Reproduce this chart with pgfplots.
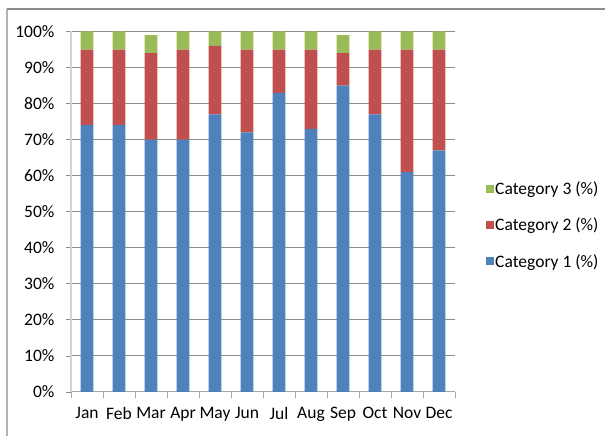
\documentclass[border=0pt]{standalone}
\usepackage{fontspec}
\setmainfont{Carlito}
\usepackage{pgfplots}
\pgfplotsset{compat=1.18}
\definecolor{cblue}{HTML}{4F81BD}
\definecolor{cred}{HTML}{C0504D}
\definecolor{cgreen}{HTML}{9BBB59}
\definecolor{gridgray}{HTML}{8C8C8C}
\begin{document}
\begin{tikzpicture}[x=1pt,y=1pt]
\useasboundingbox (0,0) rectangle (605,436);
\draw[gray!60, line width=1.2pt] (7,0) -- (7,427);
\draw[gridgray, line width=1.2pt] (7,427) -- (605,427);
\begin{axis}[
  at={(71pt,44pt)}, anchor=south west,
  scale only axis, width=384pt, height=360.5pt,
  ybar stacked, bar width=12.7pt,
  xmin=-0.5, xmax=11.5, ymin=0, ymax=100,
  xtick={0,...,11},
  xticklabels={Jan,Feb,Mar,Apr,May,Jun,Jul,Aug,Sep,Oct,Nov,Dec},
  minor xtick={-0.5,0.5,...,11.5},
  ytick={0,10,...,100},
  yticklabel={\pgfmathprintnumber{\tick}\%},
  /pgf/number format/assume math mode=true,
  ticklabel style={font=\fontsize{17.5}{20}\selectfont},
  axis x line*=bottom, axis y line*=left,
  x axis line style={draw=gray!70, line width=1pt, -},
  y axis line style={draw=gray!35, line width=2pt, -},
  tick align=outside,
  major x tick style={draw=none},
  minor x tick style={draw=gray!70, line width=0.8pt},
  minor tick length=6pt,
  major tick length=5pt,
  y tick style={draw=gridgray, line width=0.8pt},
  ymajorgrids, grid style={draw=gridgray, line width=1pt},
  xticklabel style={yshift=-7pt},
  yticklabel style={xshift=-8pt},
  legend style={at={(1.073,0.463)}, anchor=west, draw=none, fill=none,
    font=\fontsize{17.5}{20}\selectfont, row sep=20pt,
    nodes={inner sep=1pt, anchor=west}},
  legend cell align=left,
  reverse legend,
  legend image code/.code={\fill[#1, draw=none] (0pt,-4pt) rectangle (8pt,4pt);},
]
\addplot[fill=cblue, draw=none] coordinates {(0,74) (1,74) (2,70) (3,70) (4,77) (5,72) (6,83) (7,73) (8,85) (9,77) (10,61) (11,67)};
\addplot[fill=cred, draw=none] coordinates {(0,21) (1,21) (2,24) (3,25) (4,19) (5,23) (6,12) (7,22) (8,9) (9,18) (10,34) (11,28)};
\addplot[fill=cgreen, draw=none] coordinates {(0,5) (1,5) (2,5) (3,5) (4,4) (5,5) (6,5) (7,5) (8,5) (9,5) (10,5) (11,5)};
\legend{Category 1 (\%),Category 2 (\%),Category 3 (\%)}
\end{axis}
\end{tikzpicture}
\end{document}
